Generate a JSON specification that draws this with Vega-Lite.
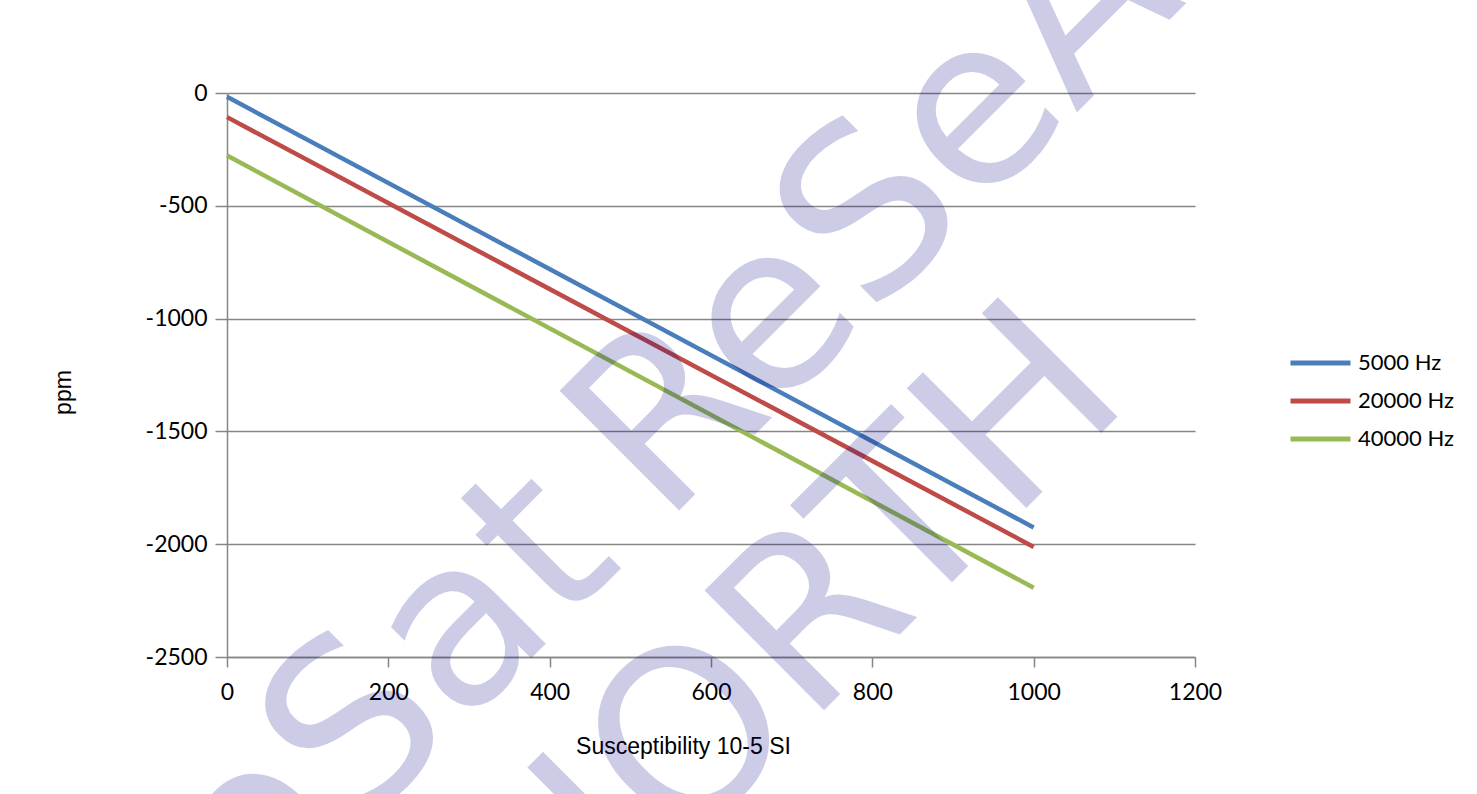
{
  "$schema": "https://vega.github.io/schema/vega-lite/v6.json",
  "autosize": "none",
  "width": 968,
  "height": 564,
  "padding": {"left": 227, "top": 93, "right": 282, "bottom": 137},
  "background": "white",
  "config": {
    "view": {"stroke": null},
    "axis": {
      "labelFont": "Lato",
      "labelFontSize": 23,
      "labelColor": "#000000",
      "labelFlush": false,
      "labelOverlap": false,
      "titleFont": "Liberation Sans",
      "titleFontSize": 23,
      "titleFontWeight": "normal",
      "titleColor": "#000000",
      "domainColor": "#868686",
      "domainWidth": 1.5,
      "tickColor": "#868686",
      "tickWidth": 1.5,
      "gridColor": "#868686",
      "gridWidth": 1.5
    },
    "legend": {
      "labelFont": "Lato",
      "labelFontSize": 22,
      "labelColor": "#000000",
      "symbolType": "stroke",
      "symbolStrokeWidth": 5,
      "symbolSize": 3600,
      "labelOffset": 5,
      "rowPadding": 0,
      "clipHeight": 38,
      "padding": 0
    }
  },
  "datasets": {
    "lines": [
      {"susceptibility": 0, "ppm": -17, "series": "5000 Hz"},
      {"susceptibility": 1000, "ppm": -1926, "series": "5000 Hz"},
      {"susceptibility": 0, "ppm": -107, "series": "20000 Hz"},
      {"susceptibility": 1000, "ppm": -2012, "series": "20000 Hz"},
      {"susceptibility": 0, "ppm": -277, "series": "40000 Hz"},
      {"susceptibility": 1000, "ppm": -2193, "series": "40000 Hz"}
    ],
    "wmLeft": [
      {"susceptibility": 540.5, "ppm": -1921, "label": "ReSeArch"},
      {"susceptibility": 720.2, "ppm": -2807, "label": "RTH"}
    ],
    "wmRight": [
      {"susceptibility": 493.5, "ppm": -2090, "label": "GeoSat"},
      {"susceptibility": 720.2, "ppm": -2807, "label": "NO"}
    ]
  },
  "layer": [
    {
      "data": {"name": "lines"},
      "mark": {"type": "line", "strokeWidth": 4.5, "strokeCap": "butt"},
      "encoding": {
        "x": {
          "field": "susceptibility",
          "type": "quantitative",
          "scale": {"domain": [0, 1200], "nice": false, "zero": false},
          "axis": {
            "title": "Susceptibility 10-5 SI",
            "values": [0, 200, 400, 600, 800, 1000, 1200],
            "labelExpr": "'' + datum.value",
            "grid": false,
            "tickSize": 10,
            "labelPadding": 14,
            "titleX": 456,
            "titleY": 96,
            "titleAlign": "center",
            "titleBaseline": "alphabetic"
          }
        },
        "y": {
          "field": "ppm",
          "type": "quantitative",
          "scale": {"domain": [-2500, 0], "nice": false, "zero": false},
          "axis": {
            "title": "ppm",
            "values": [0, -500, -1000, -1500, -2000, -2500],
            "labelExpr": "'' + datum.value",
            "grid": true,
            "tickSize": 12,
            "labelPadding": 8,
            "titleX": -157,
            "titleY": 299,
            "titleAlign": "center",
            "titleBaseline": "alphabetic"
          }
        },
        "color": {
          "field": "series",
          "type": "nominal",
          "scale": {
            "domain": ["5000 Hz", "20000 Hz", "40000 Hz"],
            "range": ["#4A7EBB", "#BE4B48", "#98B954"]
          },
          "legend": {
            "title": null,
            "orient": "none",
            "legendX": 1061,
            "legendY": 251
          }
        }
      }
    },
    {
      "data": {"name": "wmLeft"},
      "mark": {
        "type": "text",
        "font": "DejaVu Sans",
        "fontSize": 232,
        "angle": -45,
        "align": "left",
        "baseline": "alphabetic",
        "fill": "#000080",
        "fillOpacity": 0.2
      },
      "encoding": {
        "x": {"field": "susceptibility", "type": "quantitative"},
        "y": {"field": "ppm", "type": "quantitative"},
        "text": {"field": "label", "type": "nominal"}
      }
    },
    {
      "data": {"name": "wmRight"},
      "mark": {
        "type": "text",
        "font": "DejaVu Sans",
        "fontSize": 232,
        "angle": -45,
        "align": "right",
        "baseline": "alphabetic",
        "fill": "#000080",
        "fillOpacity": 0.2
      },
      "encoding": {
        "x": {"field": "susceptibility", "type": "quantitative"},
        "y": {"field": "ppm", "type": "quantitative"},
        "text": {"field": "label", "type": "nominal"}
      }
    }
  ]
}
